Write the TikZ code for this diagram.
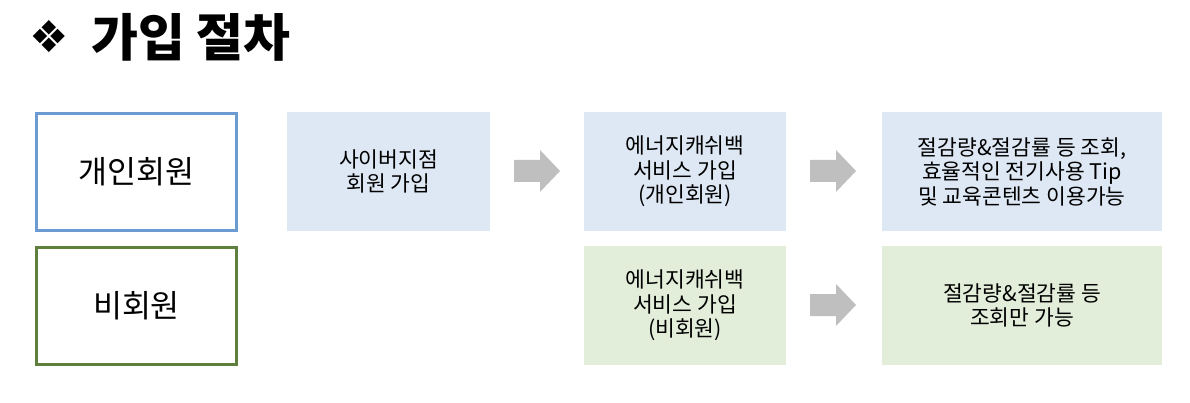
\documentclass[tikz,border=0pt]{standalone}
\usepackage{fontspec}
\setmainfont{Noto Sans CJK KR}
\newfontfamily\symfont{DejaVu Sans}
\definecolor{bluefill}{HTML}{DEE8F4}
\definecolor{greenfill}{HTML}{E3EEDA}
\definecolor{blueline}{HTML}{6C9BD2}
\definecolor{greenline}{HTML}{5F7F3F}
\definecolor{arrowgray}{HTML}{BFBFBF}
\begin{document}
\begin{tikzpicture}[x=1pt,y=-1pt,
  catbox/.style={draw, line width=3pt, minimum width=200pt, minimum height=117pt, inner sep=0pt, font=\fontsize{31.5}{36}\selectfont},
  bluebox/.style={fill=bluefill, minimum height=119pt, inner sep=0pt, align=center, font=\fontsize{21.5}{24.5}\selectfont},
  greenbox/.style={fill=greenfill, minimum height=119pt, inner sep=0pt, align=center, font=\fontsize{21.5}{24.5}\selectfont}
]
\useasboundingbox (0,0) rectangle (1190,403);
% title
\node[anchor=center, font=\symfont\fontsize{44}{48}\selectfont, inner sep=0pt] (sym) at (49.5,37) {❖};
\node[anchor=base west, font=\bfseries\fontsize{51}{56}\selectfont, inner sep=0pt] (title) at (91,57) {가입 절차};
% category boxes
\node[catbox, draw=blueline] (personal) at (136.5,172) {개인회원};
\node[catbox, draw=greenline] (guest) at (136.5,305.5) {비회원};
% top row
\node[bluebox, minimum width=203pt] (b1) at (388.5,171.5) {사이버지점\\회원 가입};
\node[bluebox, minimum width=202pt] (b2) at (685,171.5) {에너지캐쉬백\\서비스 가입\\(개인회원)};
\node[bluebox, minimum width=280pt] (b3) at (1022,171.5) {절감량\&절감률 등 조회,\\효율적인 전기사용 Tip\\및 교육콘텐츠 이용가능};
% bottom row
\node[greenbox, minimum width=202pt] (g1) at (685,305.5) {에너지캐쉬백\\서비스 가입\\(비회원)};
\node[greenbox, minimum width=280pt] (g2) at (1022,305.5) {절감량\&절감률 등\\조회만 가능};
% arrows
\fill[arrowgray] (514,160) -- (540,160) -- (540,150) -- (560,171) -- (540,192) -- (540,182) -- (514,182) -- cycle;
\fill[arrowgray] (810,160) -- (836,160) -- (836,150) -- (856,171) -- (836,192) -- (836,182) -- (810,182) -- cycle;
\fill[arrowgray] (810,294) -- (836,294) -- (836,284) -- (856,305) -- (836,326) -- (836,316) -- (810,316) -- cycle;
\end{tikzpicture}
\end{document}
